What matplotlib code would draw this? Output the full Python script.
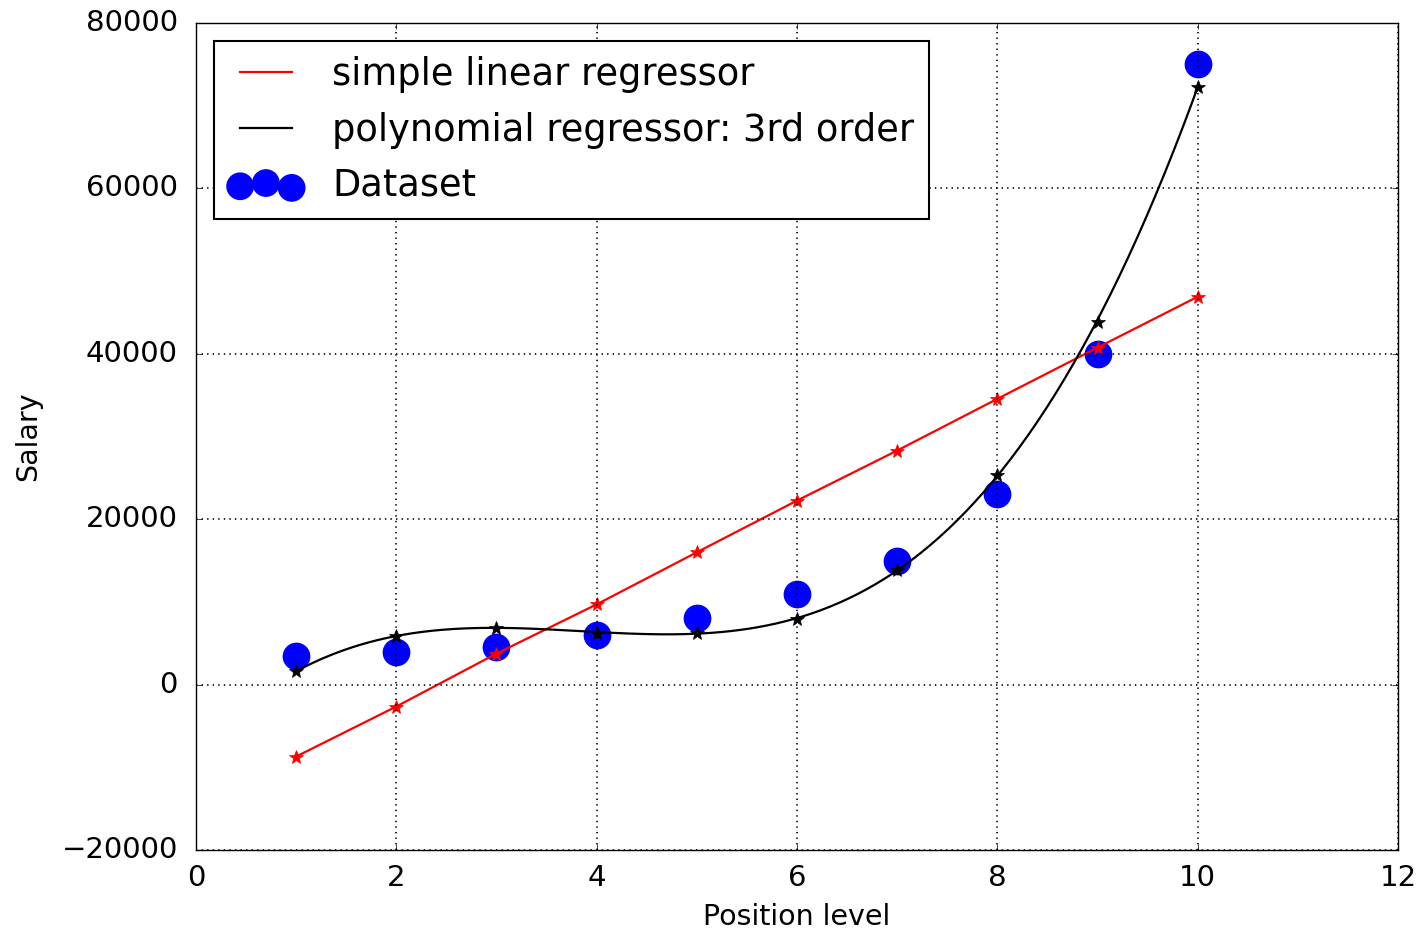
import numpy as np
import matplotlib
matplotlib.use("Agg")
import matplotlib.pyplot as plt

plt.style.use("classic")

# Data
position = [1, 2, 3, 4, 5, 6, 7, 8, 9, 10]
salary = [3500, 3900, 4500, 6000, 8000, 11000, 15000, 23000, 40000, 75000]
linear_pred = [-8700, -2650, 3750, 9700, 16000, 22250, 28300, 34550, 40750, 46900]
poly_pred = [1600, 5900, 6900, 6300, 6200, 7900, 13900, 25400, 43900, 72300]

xticks = [0, 2, 4, 6, 8, 10, 12]
yticks = [-20000, 0, 20000, 40000, 60000, 80000]

fig = plt.figure(figsize=(14.17, 9.31), dpi=100, facecolor="white")
ax = fig.add_axes([0.1383, 0.0870, 0.8483, 0.8883])

x = np.array(position, dtype=float)
# smooth curve through the read polynomial predictions
coef = np.polyfit(x, poly_pred, 3)
xs = np.linspace(x.min(), x.max(), 300)

ax.plot(x, linear_pred, color="red", lw=1.6, label="simple linear regressor")
ax.plot(x, linear_pred, "*", color="red", mec="red", ms=10)
ax.plot(xs, np.polyval(coef, xs), color="black", lw=1.6,
        label="polynomial regressor: 3rd order")
ax.plot(x, poly_pred, "*", color="black", mec="black", ms=10)
ax.scatter(x, salary, s=360, color="blue", edgecolors="blue", label="Dataset", zorder=1)

ax.set_xlim(0, 12)
ax.set_ylim(-20000, 80000)
ax.set_xticks(xticks)
ax.set_yticks(yticks)
ax.tick_params(labelsize=21)
ax.tick_params(axis="x", pad=10)
ax.tick_params(axis="y", pad=13)
ax.grid(True, color="black", linestyle=":", lw=1.2)
ax.set_xlabel("Position level", fontsize=20.5, labelpad=8)
ax.set_ylabel("Salary", fontsize=20.5, labelpad=14)

leg = ax.legend(loc="upper left", fontsize=26.5, frameon=True, fancybox=False,
                scatterpoints=3, scatteryoffsets=[0.375, 0.5, 0.3125],
                handlelength=2, borderaxespad=0.5)
leg.get_frame().set_edgecolor("black")
leg.get_frame().set_linewidth(1.5)

fig.savefig("out.png", dpi=100, facecolor="white")
